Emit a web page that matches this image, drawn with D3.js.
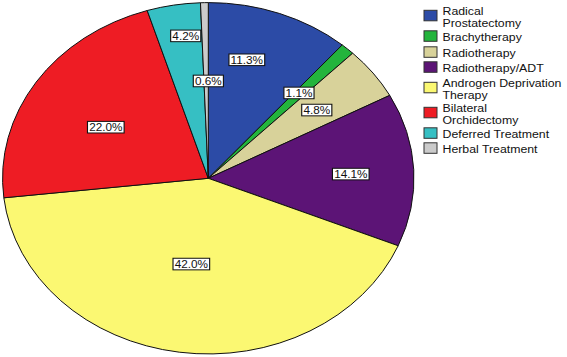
<!DOCTYPE html>
<html>
<head>
<meta charset="utf-8">
<script src="https://cdn.jsdelivr.net/npm/d3@7/dist/d3.min.js"></script>
<style>
  body { margin: 0; background: #fff; }
  svg { display: block; font-family: Arial, "Liberation Sans", sans-serif; }
</style>
</head>
<body>
<div id="chart"></div>
<script>
// treatment categories, shares (%) and legend wording
const categories = ["Radical Prostatectomy", "Brachytherapy", "Radiotherapy", "Radiotherapy/ADT",
    "Androgen Deprivation Therapy", "Bilateral Orchidectomy", "Deferred Treatment", "Herbal Treatment"];
const shares = [11.3, 1.1, 4.8, 14.1, 42.0, 22.0, 4.2, 0.6];
const legendLines = [["Radical", "Prostatectomy"], ["Brachytherapy"], ["Radiotherapy"], ["Radiotherapy/ADT"],
    ["Androgen Deprivation", "Therapy"], ["Bilateral", "Orchidectomy"], ["Deferred Treatment"], ["Herbal Treatment"]];
const colors = ["#2c4ba6", "#23b43c", "#d8d29a", "#5c1476", "#fbf872", "#ee1c24", "#36bfc3", "#cbcbcb"];

// label placement (fraction of radius, angle nudge in degrees), as SPSS put them
const labelR = [0.70, 0.656, 0.655, 0.693, 0.495, 0.577, 0.818, 0.554];
const labelNudge = [-4.8, -0.4, 0.4, 0.8, 1.5, -2.9, 2.0, 1.1];

const W = 567, H = 357;
// the pie is stretched horizontally in the source image
const pieBox = {cx: 208.3, cy: 178.3, rx: 205.7, ry: 175.7};
const stretch = 1.12;

const svg = d3.select("#chart").append("svg")
    .attr("width", W)
    .attr("height", H);

const pie = d3.pie().sort(null).value(d => d);
const arcs = pie(shares);
const arc = d3.arc().innerRadius(0).outerRadius(1);

const pieG = svg.append("g")
    .attr("transform", `translate(${pieBox.cx},${pieBox.cy}) scale(${pieBox.rx},${pieBox.ry})`);

pieG.selectAll("path")
    .data(arcs)
    .join("path")
    .attr("d", arc)
    .attr("fill", (d, i) => colors[i])
    .attr("stroke", "#111")
    .attr("stroke-width", 1)
    .attr("vector-effect", "non-scaling-stroke");

// percentage labels in white boxes
const labels = svg.append("g").selectAll("g")
    .data(arcs)
    .join("g")
    .attr("transform", (d, i) => {
        let a = (d.startAngle + d.endAngle) / 2 + labelNudge[i] * Math.PI / 180;
        let x = pieBox.cx + pieBox.rx * labelR[i] * Math.sin(a);
        let y = pieBox.cy - pieBox.ry * labelR[i] * Math.cos(a);
        return `translate(${x},${y}) scale(${stretch},1)`;
    });

labels.append("rect")
    .attr("fill", "#fff")
    .attr("stroke", "#111")
    .attr("stroke-width", 1);

labels.append("text")
    .attr("text-anchor", "middle")
    .attr("dy", "0.36em")
    .attr("font-size", "10.5px")
    .attr("fill", "#111")
    .text(d => d.data.toFixed(1) + "%");

labels.each(function() {
    let g = d3.select(this);
    let len = g.select("text").node().getComputedTextLength();
    g.select("rect")
        .attr("x", -len / 2 - 1.5)
        .attr("y", -5.8)
        .attr("width", len + 3)
        .attr("height", 11.6);
});

// legend
const legendCenters = [15.5, 36, 52, 67, 87.5, 112.5, 133, 148];
const legend = svg.append("g");

const rows = legend.selectAll("g")
    .data(categories)
    .join("g")
    .attr("transform", (d, i) => `translate(0,${legendCenters[i]})`);

rows.append("rect")
    .attr("x", 424)
    .attr("y", -5.2)
    .attr("width", 13)
    .attr("height", 10.5)
    .attr("fill", (d, i) => colors[i])
    .attr("stroke", "#333")
    .attr("stroke-width", 1);

rows.append("g")
    .attr("transform", `translate(442.5,0) scale(${stretch},1)`)
    .selectAll("text")
    .data((d, i) => legendLines[i].map((t, j) => ({t: t, j: j, n: legendLines[i].length})))
    .join("text")
    .attr("x", 0)
    .attr("y", d => d.n === 1 ? 4.5 : d.j * 12 - 0.5)
    .attr("font-size", "11px")
    .attr("fill", "#111")
    .text(d => d.t);
</script>
</body>
</html>
